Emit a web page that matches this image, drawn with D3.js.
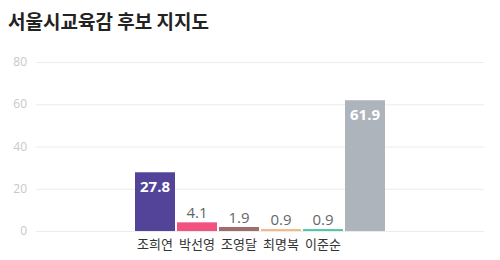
<!DOCTYPE html>
<html>
<head>
<meta charset="utf-8">
<script src="https://cdn.jsdelivr.net/npm/d3@7"></script>
<style>
  body { margin: 0; background: #fff; }
  svg { display: block; }
</style>
</head>
<body>
<svg id="chart" width="500" height="260"></svg>
<script>
const candidates = ["조희연", "박선영", "조영달", "최명복", "이준순", ""];
const support = [27.8, 4.1, 1.9, 0.9, 0.9, 61.9];
const barColors = ["#53449a", "#f2527f", "#9e6e6e", "#f5b780", "#4dc4a6", "#adb4bc"];
const yTicks = [0, 20, 40, 60, 80];

const width = 500, height = 260;
const margin = { top: 62, right: 16, bottom: 29, left: 36 };
const plotW = width - margin.left - margin.right,
    plotH = height - margin.top - margin.bottom;

const svg = d3.select("#chart");

svg.append("text")
    .attr("x", 8)
    .attr("y", 29)
    .attr("font-family", "'Noto Sans CJK KR', sans-serif")
    .attr("font-size", 19)
    .attr("font-weight", "bold")
    .attr("fill", "#222")
    .text("서울시교육감 후보 지지도");

const g = svg.append("g")
    .attr("transform", "translate(" + margin.left + "," + margin.top + ")");

const y = d3.scaleLinear().domain([0, 80]).range([plotH, 0]);

// bars are a fixed width, centred in the plot
const step = 42;
const groupW = step * candidates.length;
const x = d3.scaleBand()
    .domain(d3.range(candidates.length))
    .range([(plotW - groupW) / 2, (plotW + groupW) / 2])
    .paddingInner(2 / 42)
    .paddingOuter(1 / 42);

// grid
g.append("g")
    .selectAll("line")
    .data(yTicks)
    .enter().append("line")
    .attr("x1", 0)
    .attr("x2", plotW)
    .attr("y1", d => y(d) + 0.5)
    .attr("y2", d => y(d) + 0.5)
    .attr("stroke", "#ececec");

g.append("g")
    .selectAll("text")
    .data(yTicks)
    .enter().append("text")
    .attr("x", -9)
    .attr("y", d => y(d))
    .attr("dy", "0.35em")
    .attr("text-anchor", "end")
    .attr("font-family", "'Open Sans', sans-serif")
    .attr("font-size", 12)
    .attr("fill", "#c8c8c8")
    .text(d => d);

// bars
g.selectAll("rect.bar")
    .data(support)
    .enter().append("rect")
    .attr("class", "bar")
    .attr("x", (d, i) => x(i))
    .attr("width", x.bandwidth())
    .attr("y", d => y(d))
    .attr("height", d => plotH - y(d))
    .attr("fill", (d, i) => barColors[i]);

// value labels: inside for big bars, above for small ones
g.selectAll("text.val")
    .data(support)
    .enter().append("text")
    .attr("class", "val")
    .attr("x", (d, i) => x(i) + x.bandwidth() / 2)
    .attr("y", d => d > 10 ? y(d) + 20 : y(d) - 4)
    .attr("text-anchor", "middle")
    .attr("font-family", "'Open Sans', sans-serif")
    .attr("font-size", 15)
    .attr("font-weight", d => d > 10 ? "bold" : "normal")
    .attr("fill", d => d > 10 ? "#fff" : "#666")
    .text(d => d.toFixed(1));

// category labels
g.selectAll("text.cat")
    .data(candidates)
    .enter().append("text")
    .attr("class", "cat")
    .attr("x", (d, i) => x(i) + x.bandwidth() / 2)
    .attr("y", plotH + 18)
    .attr("text-anchor", "middle")
    .attr("font-family", "'Noto Sans CJK KR', sans-serif")
    .attr("font-size", 13)
    .attr("fill", "#333")
    .text(d => d);
</script>
</body>
</html>
